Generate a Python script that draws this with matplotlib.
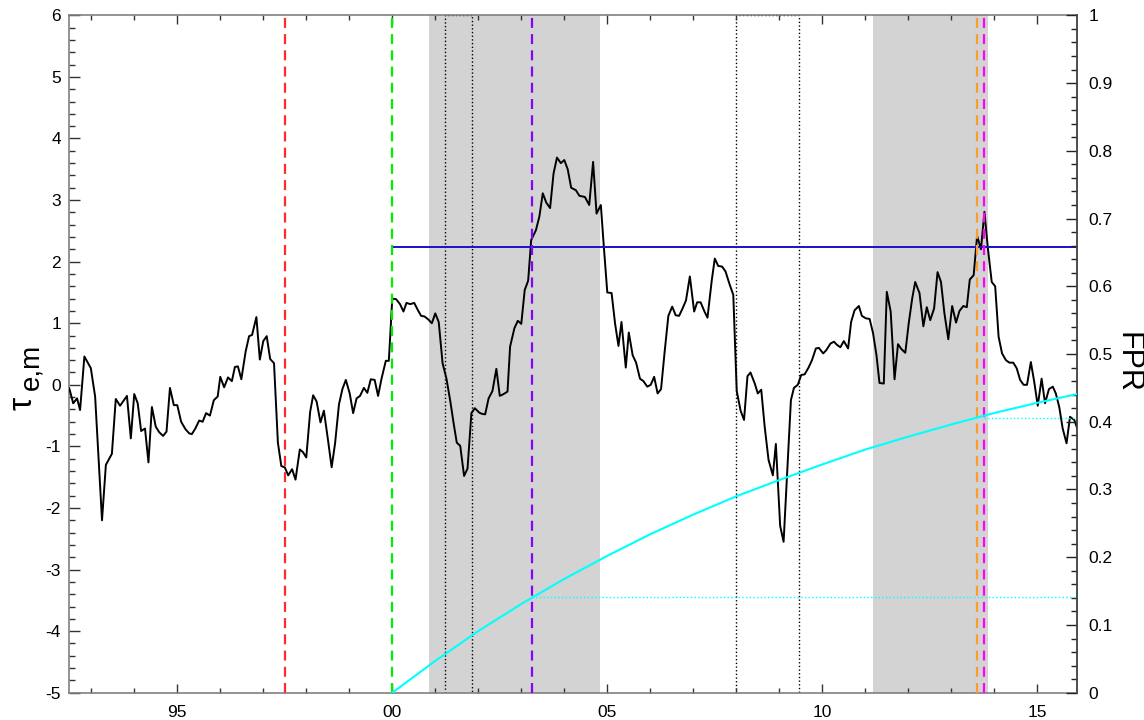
import numpy as np
import matplotlib.pyplot as plt
from matplotlib.ticker import MultipleLocator, FuncFormatter, FormatStrFormatter

plt.rcParams['font.family'] = ['Liberation Sans', 'DejaVu Sans']
plt.rcParams['axes.unicode_minus'] = False

# tau_e,m series (decimal year, value)
tau_years = [
    1992.49, 1992.58, 1992.67, 1992.74, 1992.84, 1992.99, 1993.09, 1993.25, 1993.34, 1993.48,
    1993.57, 1993.67, 1993.83, 1993.92, 1994.00, 1994.08, 1994.16, 1994.25, 1994.33, 1994.41,
    1994.50, 1994.58, 1994.67, 1994.75, 1994.83, 1994.92, 1995.00, 1995.09, 1995.19, 1995.28,
    1995.34, 1995.42, 1995.51, 1995.59, 1995.67, 1995.76, 1995.85, 1995.94, 1996.00, 1996.09,
    1996.18, 1996.27, 1996.34, 1996.41,
    1996.49, 1996.59, 1996.67, 1996.74, 1996.84, 1996.92, 1997.00, 1997.08, 1997.16, 1997.25,
    1997.34, 1997.42, 1997.50, 1997.58, 1997.67, 1997.75, 1997.85, 1997.92, 1998.00, 1998.09,
    1998.16, 1998.24, 1998.33, 1998.41, 1998.50, 1998.59, 1998.67, 1998.76, 1998.84, 1998.92,
    1999.01, 1999.09, 1999.17, 1999.25, 1999.34, 1999.42, 1999.50, 1999.59, 1999.67, 1999.75,
    1999.85, 1999.92, 2000.00, 2000.09, 2000.18, 2000.26,
    2000.33, 2000.42, 2000.51, 2000.59, 2000.67, 2000.75, 2000.84, 2000.92, 2001.00, 2001.08,
    2001.17, 2001.26, 2001.35, 2001.43, 2001.50, 2001.58, 2001.67, 2001.75, 2001.84, 2001.92,
    2002.02, 2002.08, 2002.16, 2002.24, 2002.33, 2002.42, 2002.50, 2002.59, 2002.68, 2002.74,
    2002.84, 2002.92, 2003.00, 2003.08, 2003.16, 2003.23, 2003.34, 2003.42, 2003.50, 2003.58,
    2003.67, 2003.75, 2003.83, 2003.92, 2004.00, 2004.08, 2004.16,
    2004.27, 2004.35, 2004.42, 2004.48, 2004.58, 2004.67, 2004.75, 2004.85, 2004.92, 2005.00,
    2005.10, 2005.18, 2005.26, 2005.33, 2005.43, 2005.50, 2005.59, 2005.67, 2005.76, 2005.84,
    2005.93, 2006.01, 2006.09, 2006.17, 2006.25, 2006.33, 2006.42, 2006.51, 2006.59, 2006.67,
    2006.75, 2006.83, 2006.92, 2007.02, 2007.09, 2007.17, 2007.26, 2007.33, 2007.43, 2007.50,
    2007.58, 2007.67, 2007.75, 2007.84, 2007.93,
    2008.01, 2008.10, 2008.18, 2008.26, 2008.33, 2008.43, 2008.50, 2008.58, 2008.66, 2008.75,
    2008.85, 2008.92, 2009.02, 2009.10, 2009.18, 2009.27, 2009.34, 2009.43, 2009.51, 2009.59,
    2009.68, 2009.76, 2009.85, 2009.92, 2010.02, 2010.09, 2010.19, 2010.27, 2010.34, 2010.42,
    2010.50, 2010.60, 2010.67, 2010.75, 2010.85, 2010.92, 2011.01, 2011.10, 2011.18, 2011.26,
    2011.33, 2011.43, 2011.50, 2011.59, 2011.68, 2011.76, 2011.84, 2011.93,
    2012.01, 2012.09, 2012.16, 2012.26, 2012.35, 2012.43, 2012.51, 2012.60, 2012.68, 2012.76,
    2012.84, 2012.93, 2013.02, 2013.11, 2013.19, 2013.28, 2013.36, 2013.43, 2013.52, 2013.60,
    2013.69, 2013.77, 2013.85, 2013.94, 2014.02, 2014.10, 2014.18, 2014.27, 2014.35, 2014.44,
    2014.52, 2014.60, 2014.68, 2014.76, 2014.85, 2014.93, 2015.01, 2015.10, 2015.18, 2015.27,
    2015.36, 2015.43, 2015.51, 2015.59, 2015.68, 2015.76, 2015.86, 2015.93,
]
tau_values = [
    -0.06, -0.30, -0.22, -0.41, 0.46, 0.27, -0.19, -2.20, -1.30, -1.12,
    -0.23, -0.34, -0.18, -0.87, -0.15, -0.30, -0.75, -0.71, -1.26, -0.36,
    -0.68, -0.77, -0.83, -0.76, -0.05, -0.33, -0.33, -0.60, -0.72, -0.79,
    -0.80, -0.71, -0.58, -0.60, -0.46, -0.50, -0.25, -0.19, 0.13, -0.04,
    0.12, 0.06, 0.29, 0.30,
    0.09, 0.54, 0.79, 0.81, 1.10, 0.41, 0.71, 0.79, 0.42, 0.35,
    -0.94, -1.32, -1.34, -1.47, -1.37, -1.54, -1.05, -1.09, -1.18, -0.44,
    -0.17, -0.27, -0.61, -0.42, -0.87, -1.34, -0.95, -0.32, -0.07, 0.08,
    -0.14, -0.46, -0.22, -0.18, -0.05, -0.13, 0.09, 0.08, -0.18, 0.10,
    0.39, 0.39, 1.40, 1.39, 1.31, 1.19,
    1.33, 1.31, 1.33, 1.22, 1.12, 1.11, 1.06, 1.00, 1.16, 1.02,
    0.35, 0.10, -0.27, -0.64, -0.94, -0.99, -1.48, -1.36, -0.46, -0.38,
    -0.45, -0.47, -0.48, -0.22, -0.10, 0.26, -0.18, -0.15, -0.11, 0.62,
    0.92, 1.04, 0.99, 1.54, 1.69, 2.35, 2.51, 2.73, 3.11, 2.96,
    2.87, 3.43, 3.69, 3.60, 3.65, 3.50, 3.20,
    3.16, 3.07, 3.06, 3.05, 2.92, 3.62, 2.78, 2.92, 2.24, 1.50,
    1.49, 1.00, 0.63, 1.02, 0.28, 0.85, 0.48, 0.36, 0.10, 0.06,
    -0.03, 0.00, 0.13, -0.14, -0.07, 0.51, 1.12, 1.27, 1.13, 1.12,
    1.24, 1.37, 1.76, 1.19, 1.34, 1.34, 1.19, 1.09, 1.70, 2.05,
    1.93, 1.92, 1.84, 1.64, 1.46,
    -0.10, -0.42, -0.57, 0.14, 0.20, 0.02, -0.14, -0.08, -0.68, -1.22,
    -1.47, -0.96, -2.29, -2.55, -1.47, -0.25, -0.05, 0.00, 0.16, 0.17,
    0.28, 0.40, 0.59, 0.60, 0.51, 0.56, 0.67, 0.70, 0.65, 0.61,
    0.71, 0.59, 1.02, 1.21, 1.28, 1.12, 1.08, 1.07, 0.84, 0.48,
    0.03, 0.02, 1.51, 1.19, 0.09, 0.66, 0.58, 0.52,
    1.00, 1.40, 1.67, 1.49, 0.95, 1.26, 1.05, 1.24, 1.83, 1.67,
    1.16, 0.74, 1.28, 1.01, 1.20, 1.28, 1.26, 1.71, 1.78, 2.42,
    2.20, 2.81, 2.22, 1.67, 1.60, 0.78, 0.51, 0.40, 0.36, 0.36,
    0.27, 0.08, 0.00, 0.00, 0.37, 0.04, -0.34, 0.10, -0.30, -0.07,
    -0.03, -0.14, -0.36, -0.71, -0.95, -0.52, -0.57, -0.71,
]
assert len(tau_years) == len(tau_values)

# false positive rate (right axis)
fpr_years = [2000, 2001, 2002, 2003, 2004, 2005, 2006, 2007, 2008, 2009,
             2010, 2011, 2012, 2013, 2014, 2015, 2015.93]
fpr_values = [0.0, 0.047, 0.091, 0.131, 0.168, 0.202, 0.234, 0.263, 0.290, 0.314,
              0.337, 0.359, 0.378, 0.396, 0.413, 0.428, 0.441]
fpr_marks = [(2003.25, 0.141), (2013.76, 0.406)]

threshold = 2.237
shaded = [(2000.85, 2004.84), (2011.18, 2013.85)]
recessions = [(2001.23, 2001.86), (2007.99, 2009.46)]
event_years = [1997.50, 2000.00, 2003.25, 2013.60, 2013.76]
event_colors = ['#ff2a2a', '#00ee00', '#8a00ff', '#ff9a2e', '#ff00ff']

x_min, x_max = 1992.49, 2015.93
y_min, y_max = -5, 6

fig = plt.figure(figsize=(11.44, 7.2), dpi=100)
ax = fig.add_axes([0.0606, 0.0379, 0.8811, 0.9408])

for a, b in shaded:
    ax.axvspan(a, b, color='#d3d3d3', lw=0, zorder=0)
for a, b in recessions:
    ax.plot([a, a, b, b], [y_min, y_max, y_max, y_min], ls=':', color='k', lw=1.0, zorder=1)

ax.plot(tau_years, tau_values, color='k', lw=1.4, zorder=3)
ax.plot([2000.0, x_max], [threshold, threshold], color='#1414c8', lw=1.4, zorder=3)

for t, c in zip(event_years, event_colors):
    ax.plot([t, t], [y_min, y_max], color=c, lw=1.6, dashes=(4.5, 2.8), zorder=4)

ax.set_xlim(x_min, x_max)
ax.set_ylim(y_min, y_max)
ax.xaxis.set_major_locator(MultipleLocator(5))
ax.xaxis.set_minor_locator(MultipleLocator(1))
ax.xaxis.set_major_formatter(FuncFormatter(lambda v, p: '%02d' % (int(round(v)) % 100)))
ax.yaxis.set_major_locator(MultipleLocator(1))
ax.yaxis.set_minor_locator(MultipleLocator(0.2))
ax.yaxis.set_major_formatter(FormatStrFormatter('%d'))
ax.tick_params(axis='x', which='both', direction='in', top=True, bottom=True,
               labelsize=12.5, pad=9, color='#333333')
ax.tick_params(axis='x', which='major', length=6.5, width=1)
ax.tick_params(axis='x', which='minor', length=3.6, width=1)
ax.tick_params(axis='y', which='both', direction='in', left=True, right=False,
               labelsize=12.5, pad=6, color='#333333')
ax.tick_params(axis='y', which='major', length=8, width=1)
ax.tick_params(axis='y', which='minor', length=4, width=1)
for s in ax.spines.values():
    s.set_color('#808080')
    s.set_linewidth(1.2)

ax2 = ax.twinx()
ax2.set_position([0.0606, 0.0379, 0.8811, 0.9408])
ax2.plot(fpr_years, fpr_values, color='#00ffff', lw=1.5, zorder=5)
for t, v in fpr_marks:
    ax2.plot([t, x_max], [v, v], ls=':', color='#00ffff', lw=1.0)
ax2.set_ylim(0, 1)
ax2.set_xlim(x_min, x_max)
ax2.yaxis.set_major_locator(MultipleLocator(0.1))
ax2.yaxis.set_minor_locator(MultipleLocator(0.02))
ax2.yaxis.set_major_formatter(FuncFormatter(lambda v, p: '%g' % round(v, 2)))
ax2.tick_params(axis='y', which='both', direction='in', labelsize=12.5, pad=8, color='#222222')
ax2.tick_params(axis='y', which='major', length=8, width=1)
ax2.tick_params(axis='y', which='minor', length=4, width=1)
for k in ['left', 'top', 'bottom']:
    ax2.spines[k].set_visible(False)
ax2.spines['right'].set_color('#444444')
ax2.spines['right'].set_linewidth(1.2)

# left label: tau with subscript e,m
fig.text(23.5 / 1144, 1 - 403 / 720, 'τ', rotation=90,
         fontsize=24, ha='center', va='center')
fig.text(31 / 1144, 1 - 367 / 720, 'e,m', rotation=90,
         fontsize=20, ha='center', va='center')
fig.text(1128 / 1144, 1 - 362 / 720, 'FPR', rotation=270,
         fontsize=22, ha='center', va='center')

fig.savefig('out.png', dpi=100)
